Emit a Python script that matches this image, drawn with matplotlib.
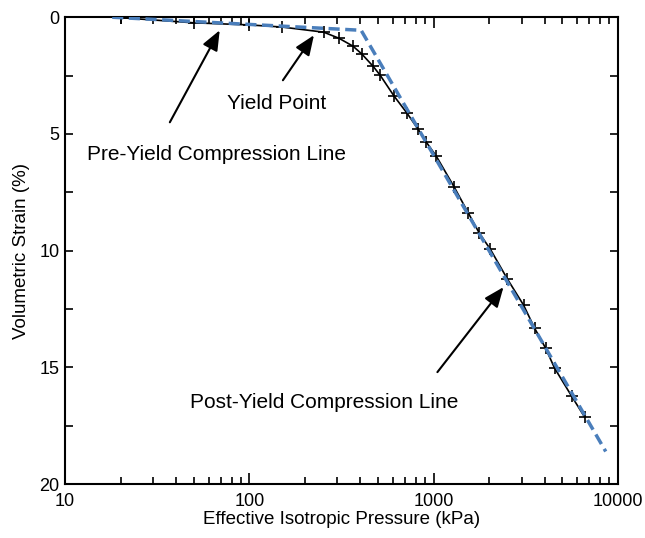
import matplotlib
matplotlib.use('Agg')
import matplotlib.pyplot as plt
from matplotlib.ticker import FixedLocator, NullFormatter, LogLocator

plt.rcParams['font.family'] = ['Liberation Sans', 'DejaVu Sans']

# measured test data: effective isotropic pressure (kPa) vs volumetric strain (%)
pressure = [20, 50, 100, 150, 253, 306, 365, 408, 469, 512, 610, 717, 824,
            912, 1033, 1294, 1543, 1770, 2032, 2516, 3076, 3532, 4055, 4532,
            5609, 6604]
strain = [0.02, 0.24, 0.33, 0.42, 0.64, 0.9, 1.24, 1.58, 2.1, 2.48, 3.38, 4.11, 4.8,
          5.35, 5.95, 7.28, 8.39, 9.25, 9.94, 11.22, 12.33, 13.32, 14.18, 15.03,
          16.23, 17.13]

# bilinear idealisation (pre-yield / post-yield compression lines)
fit_p = [18, 404, 8590]
fit_s = [0.0, 0.56, 18.6]

fig = plt.figure(figsize=(6.45, 5.38), dpi=100)
ax = fig.add_axes([0.101, 0.1, 0.857, 0.868])

ax.plot(pressure, strain, color='black', lw=1.2, marker='+', ms=9, mew=1.2, zorder=3)
ax.plot(fit_p, fit_s, color='#4a7ebb', lw=2.5, ls=(0, (3.2, 1.6)), zorder=4)

ax.set_xscale('log')
ax.set_xlim(10, 10000)
ax.set_ylim(20, 0)

ax.set_yticks([0, 5, 10, 15, 20])
ax.yaxis.set_minor_locator(FixedLocator([2.5, 7.5, 12.5, 17.5]))
ax.xaxis.set_major_locator(LogLocator(base=10))
ax.xaxis.set_minor_locator(LogLocator(base=10, subs=range(2, 10)))
ax.xaxis.set_minor_formatter(NullFormatter())
ax.set_xticks([10, 100, 1000, 10000])
ax.set_xticklabels(['10', '100', '1000', '10000'])

ax.tick_params(which='both', direction='in', top=True, right=True, width=1.2, labelsize=13)
ax.tick_params(which='major', axis='x', length=8, pad=6)
ax.tick_params(which='minor', axis='x', length=5)
ax.tick_params(which='both', axis='y', length=6, pad=4)
for sp in ax.spines.values():
    sp.set_linewidth(1.5)

ax.set_xlabel('Effective Isotropic Pressure (kPa)', fontsize=13.5, labelpad=1)
ax.set_ylabel('Volumetric Strain (%)', fontsize=13.5, labelpad=7)

arrow = dict(arrowstyle='-|>,head_length=1.1,head_width=0.45', color='black',
             lw=1.5, mutation_scale=11, shrinkA=0, shrinkB=0)
ax.annotate('', xy=(69, 0.56), xytext=(37, 4.5), arrowprops=arrow)
ax.text(334, 5.9, 'Pre-Yield Compression Line', fontsize=15, ha='right', va='center')
ax.annotate('', xy=(224, 0.77), xytext=(152, 2.7), arrowprops=arrow)
ax.text(260, 3.68, 'Yield Point', fontsize=15, ha='right', va='center')
ax.annotate('', xy=(2393, 11.56), xytext=(1048, 15.2), arrowprops=arrow)
ax.text(1361, 16.5, 'Post-Yield Compression Line', fontsize=15, ha='right', va='center')

fig.savefig('out.png', dpi=100)
